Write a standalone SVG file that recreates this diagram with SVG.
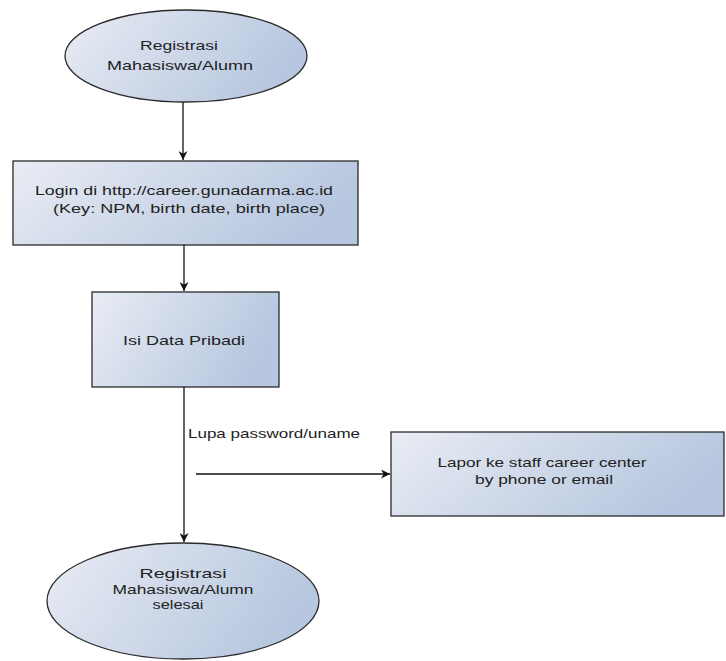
<svg xmlns="http://www.w3.org/2000/svg" width="726" height="661" viewBox="0 0 726 661">
<defs>
<linearGradient id="g" x1="0" y1="0" x2="1" y2="0.3">
<stop offset="0" stop-color="#e9ecf4"/>
<stop offset="1" stop-color="#b7c7df"/>
</linearGradient>
<marker id="ah" viewBox="0 0 10 10" refX="10" refY="5" markerWidth="9" markerHeight="9" orient="auto" markerUnits="userSpaceOnUse">
<path d="M0,0 L10,5 L0,10 L3,5 Z" fill="#111"/>
</marker>
<style>
.n{fill:url(#g);stroke:#2a2a2a;stroke-width:1.3}
.t{font-family:"Liberation Sans",Arial,sans-serif;font-size:13px;fill:#222;text-anchor:middle}
.l{fill:none;stroke:#111;stroke-width:1.3}
</style>
</defs>
<rect width="726" height="661" fill="#fff"/>
<g id="start">
<ellipse class="n" cx="186" cy="56" rx="121" ry="46"/>
<text class="t" x="179" y="50" textLength="78" lengthAdjust="spacingAndGlyphs">Registrasi</text>
<text class="t" x="180" y="70" textLength="146" lengthAdjust="spacingAndGlyphs">Mahasiswa/Alumn</text>
</g>
<g id="login">
<rect class="n" x="13" y="161" width="345" height="84" stroke-width="1"/>
<text class="t" x="184" y="195" textLength="298" lengthAdjust="spacingAndGlyphs">Login di http://career.gunadarma.ac.id</text>
<text class="t" x="189" y="213" textLength="272" lengthAdjust="spacingAndGlyphs">(Key: NPM, birth date, birth place)</text>
</g>
<g id="isi">
<rect class="n" x="92" y="292" width="187" height="95"/>
<text class="t" x="184" y="345" textLength="122" lengthAdjust="spacingAndGlyphs">Isi Data Pribadi</text>
</g>
<g id="lapor">
<rect class="n" x="391" y="432" width="333" height="84"/>
<text class="t" x="542" y="467" textLength="209" lengthAdjust="spacingAndGlyphs">Lapor ke staff career center</text>
<text class="t" x="544" y="484" textLength="138" lengthAdjust="spacingAndGlyphs">by phone or email</text>
</g>
<g id="end">
<ellipse class="n" cx="183" cy="601" rx="136" ry="58"/>
<text class="t" x="183" y="578" textLength="87" lengthAdjust="spacingAndGlyphs">Registrasi</text>
<text class="t" x="183" y="594" textLength="141" lengthAdjust="spacingAndGlyphs">Mahasiswa/Alumn</text>
<text class="t" x="178" y="609" textLength="51" lengthAdjust="spacingAndGlyphs">selesai</text>
</g>
<g id="connectors">
<line class="l" x1="183" y1="102" x2="183" y2="160" marker-end="url(#ah)"/>
<line class="l" x1="184" y1="245" x2="184" y2="291" marker-end="url(#ah)"/>
<line class="l" x1="184" y1="387" x2="184" y2="542" marker-end="url(#ah)"/>
<line class="l" x1="196" y1="474" x2="390" y2="474" marker-end="url(#ah)" stroke-width="1"/>
<text class="t" x="274" y="438" textLength="172" lengthAdjust="spacingAndGlyphs">Lupa password/uname</text>
</g>
</svg>
